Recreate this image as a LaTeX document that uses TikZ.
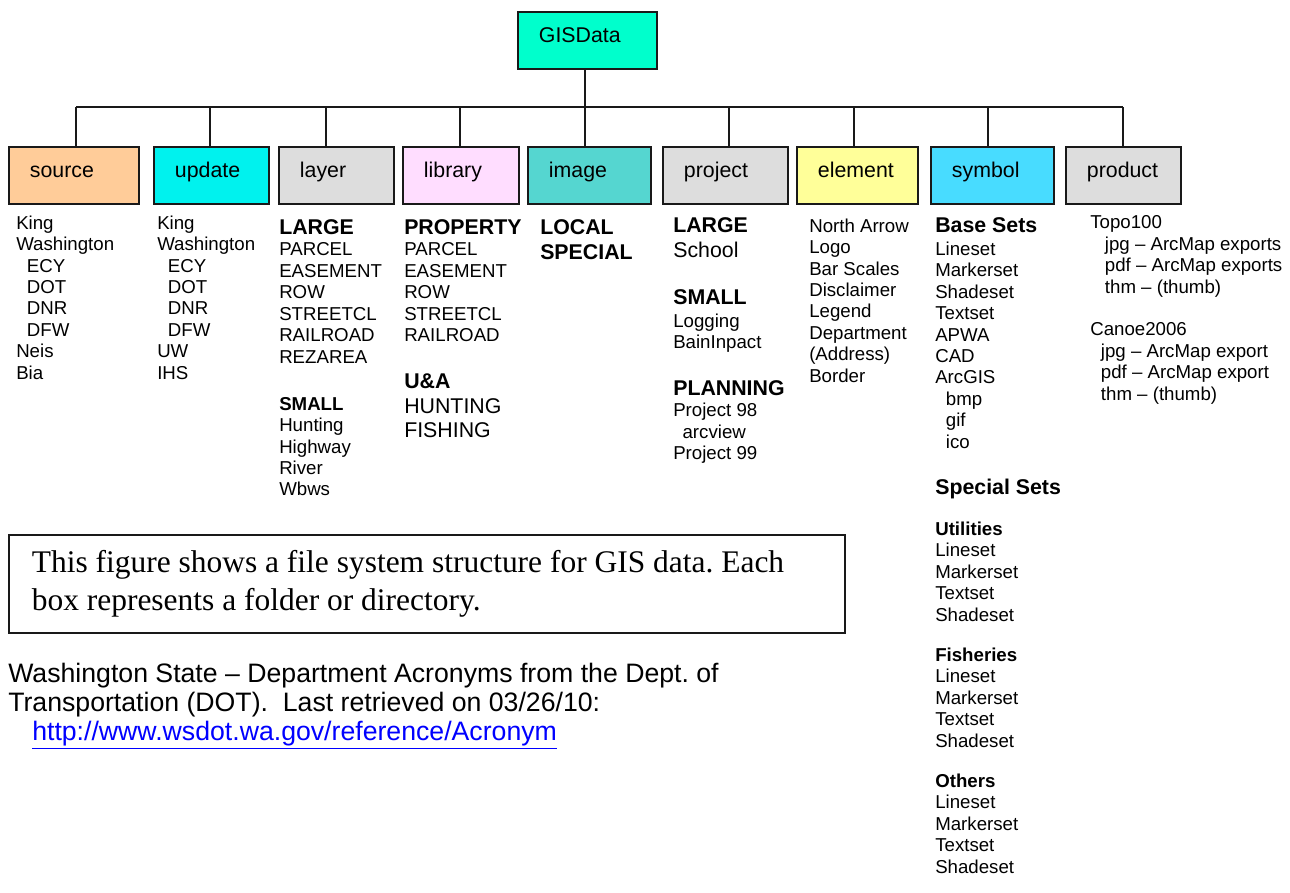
\documentclass[tikz,border=0pt]{standalone}
\usepackage{fontspec}
\setmainfont{Liberation Sans}
\newfontfamily\serifcap{Liberation Serif}
\usepackage{tikz}

\definecolor{gisfill}{HTML}{00FFCC}
\definecolor{srcfill}{HTML}{FFCC99}
\definecolor{updfill}{HTML}{00F2EE}
\definecolor{grayfill}{HTML}{DDDDDD}
\definecolor{libfill}{HTML}{FFDDFF}
\definecolor{imgfill}{HTML}{55D6D0}
\definecolor{elemfill}{HTML}{FFFF99}
\definecolor{symfill}{HTML}{48DCFF}
\definecolor{linkblue}{HTML}{0000FF}

\newcommand\rowtxt{\fontsize{14}{16.1}\selectfont\mdseries}
\newcommand\rowhead{\fontsize{16}{18.4}\selectfont\bfseries}
\newcommand\rowbig{\fontsize{16}{18.4}\selectfont\mdseries}
\newcommand\rowbold{\fontsize{14}{16.1}\selectfont\bfseries}
\newcommand\subind{\hspace*{8pt}}

\tikzset{folder/.style={draw=black!90, line width=1.4pt, fill=#1, anchor=north west, align=left,
		inner sep=0pt, minimum height=42.75pt, text height=9.2pt, text depth=6pt, font=\rowbig,
		execute at begin node=\hspace*{15.75pt}},
	link/.style={draw=black!90, line width=1.4pt},
	col/.style={anchor=north west, inner sep=0pt, align=left, font=\rowtxt}}

\begin{document}
\begin{tikzpicture}[x=0.75pt, y=-0.75pt]
	
	\path[use as bounding box, fill=white] (0,0) rectangle (1290,893);
	
	% folders
	\node[folder=gisfill, text width=104.25pt] (gis) at (517,11) {GISData};
	
	\node[folder=srcfill, text width=97.5pt] (source) at (8,146) {source};
	\node[folder=updfill, text width=86.25pt] (update) at (153,146) {update};
	\node[folder=grayfill, text width=86.25pt] (layer) at (278,146) {layer};
	\node[folder=libfill, text width=87pt] (library) at (402,146) {library};
	\node[folder=imgfill, text width=92.25pt] (image) at (527,146) {image};
	\node[folder=grayfill, text width=93.75pt] (project) at (662,146) {project};
	\node[folder=elemfill, text width=90.75pt] (element) at (796,146) {element};
	\node[folder=symfill, text width=92.25pt] (symbol) at (930,146) {symbol};
	\node[folder=grayfill, text width=86.25pt] (product) at (1065,146) {product};
	
	% tree lines
	\coordinate (busL) at (76,107);
	\coordinate (busR) at (1123,107);
	\draw[link] (busL) -- (busR);
	\draw[link] (gis.south -| 585,0) -- (image.north -| 585,0);
	\foreach \b/\x in {source/76, update/210, layer/326, library/460, project/729, element/854, symbol/988, product/1123}
		\draw[link] (\x,107) -- (\b.north -| \x,0);
	
	% folder contents
	\node[col] (srcList) at (16,215.3) {King\\Washington\\\subind ECY\\\subind DOT\\\subind DNR\\\subind DFW\\Neis\\Bia};
	
	\node[col] (updList) at (157,215.3) {King\\Washington\\\subind ECY\\\subind DOT\\\subind DNR\\\subind DFW\\UW\\IHS};
	
	\node[col] (layList) at (279,219.35) {\rowhead LARGE\\PARCEL\\EASEMENT\\ROW\\STREETCL\\RAILROAD\\REZAREA\\[19pt]
		\rowbold SMALL\\Hunting\\Highway\\River\\Wbws};
	
	\node[col] (libList) at (404,219.35) {\rowhead PROPERTY\\PARCEL\\EASEMENT\\ROW\\STREETCL\\RAILROAD\\[19pt]
		\rowhead U\&A\\[2.4pt]\rowbig HUNTING\\[2.4pt]\rowbig FISHING};
	
	\node[col] (imgList) at (540,219.35) {\rowhead LOCAL\\[2.6pt]\rowhead SPECIAL};
	
	\node[col] (prjList) at (673,217.35) {\rowhead LARGE\\[2.5pt]\rowbig School\\[19pt]
		\rowhead SMALL\\[1.2pt]Logging\\BainInpact\\[19pt]
		\rowhead PLANNING\\Project 98\\\hspace*{7pt}arcview\\Project 99};
	
	\node[col] (elmList) at (809,218.3) {North Arrow\\Logo\\Bar Scales\\Disclaimer\\Legend\\Department\\(Address)\\Border};
	
	\node[col] (symList) at (935,217.35) {\rowhead Base Sets\\[0.9pt]Lineset\\Markerset\\Shadeset\\Textset\\APWA\\CAD\\ArcGIS\\
		\subind bmp\\\subind gif\\\subind ico\\[18.4pt]
		\rowhead Special Sets\\[14.5pt]
		\rowbold Utilities\\Lineset\\Markerset\\Textset\\Shadeset\\[14pt]
		\rowbold Fisheries\\Lineset\\Markerset\\Textset\\Shadeset\\[14pt]
		\rowbold Others\\Lineset\\Markerset\\Textset\\Shadeset};
	
	\node[col] (prdList) at (1090,215.3) {Topo100\\\hspace*{11pt}jpg – ArcMap exports\\\hspace*{11pt}pdf – ArcMap exports\\
		\hspace*{11pt}thm – (thumb)\\[16.1pt]
		Canoe2006\\\subind jpg – ArcMap export\\\subind pdf – ArcMap export\\\subind thm – (thumb)};
	
	% caption and reference
	\node[draw=black!90, line width=1.2pt, anchor=north west, inner xsep=17.25pt, inner ysep=0pt, text width=592.5pt,
		minimum height=73.5pt, align=flush left, font=\serifcap\fontsize{23.6}{28.5}\selectfont\frenchspacing] (caption) at (8,534)
		{This figure shows a file system structure for GIS data. Each\\box represents a folder or directory.};
	
	\node[col, font=\fontsize{20}{21.75}\selectfont\frenchspacing] (refNote) at (8,663)
		{Washington State – Department Acronyms from the Dept. of\\Transportation (DOT).~~Last retrieved on 03/26/10:\\
		\hspace*{18pt}\textcolor{linkblue}{\underline{http://www.wsdot.wa.gov/reference/Acronym}}};
	
\end{tikzpicture}
\end{document}
